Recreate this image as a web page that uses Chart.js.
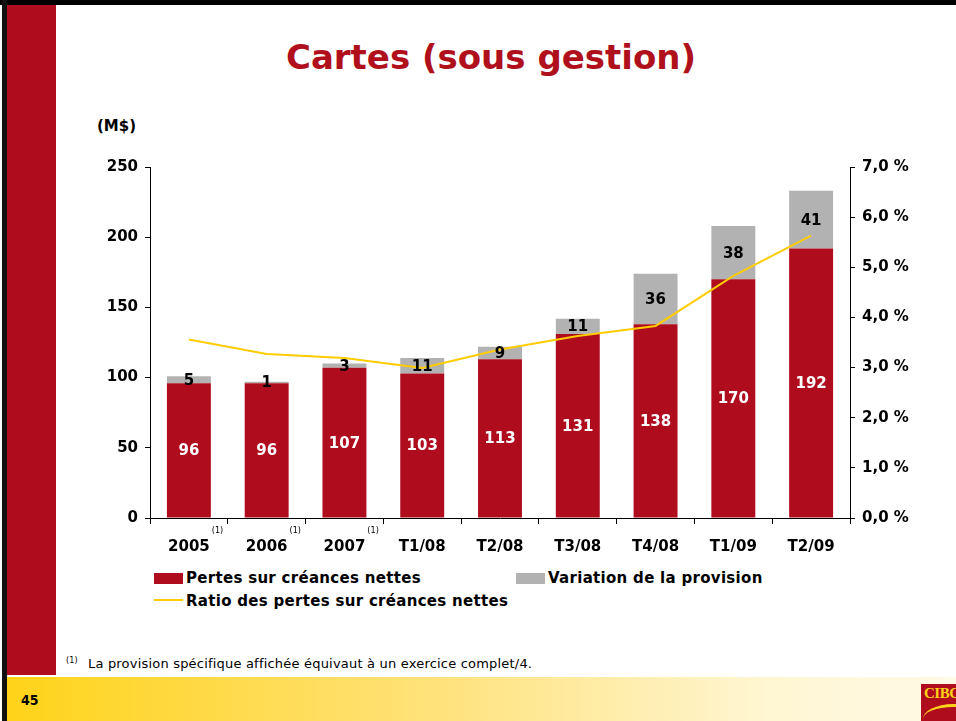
<!DOCTYPE html>
<html>
<head>
<meta charset="utf-8">
<script src="https://cdn.jsdelivr.net/npm/chart.js@4"></script>
<style>
  html, body { margin: 0; padding: 0; background: #fff; }
  body { width: 956px; height: 721px; position: relative; overflow: hidden; font-family: "DejaVu Sans", sans-serif; }
  .abs { position: absolute; }
  #topline { left: 0; top: 0; width: 956px; height: 5px; background: #000; }
  #leftline { left: 2px; top: 0; width: 5px; height: 721px; background: #111; }
  #sidebar { left: 7px; top: 5px; width: 49px; height: 670px; background: #AF0D1E; }
  #footer { left: 7px; top: 677px; width: 949px; height: 44px;
            background: linear-gradient(to right, #FFD319 0%, #FFE27A 45%, #FFF6D2 80%, #FFFAE6 100%); }
  #pageno { left: 21px; top: 692px; font: bold 14px "DejaVu Sans Condensed", "DejaVu Sans", sans-serif; }
  #logo { left: 921px; top: 684px; width: 40px; height: 37px; background: #AF0D1E; overflow: hidden; }
  #logo span { position: absolute; left: 3px; top: 1px; font: bold 15px "Liberation Serif", serif; color: #FFD319; letter-spacing: -0.5px; }
  #logo i { position: absolute; left: 2px; top: 20px; width: 50px; height: 22px; border-top: 3px solid #FFD319; border-radius: 60% 0 0 0; }
  #title { left: 60px; width: 862px; top: 37px; text-align: center; color: #B0101C; font: bold 34px "DejaVu Sans", sans-serif; }
  #unit { left: 97px; top: 117px; font: bold 15px "DejaVu Sans", sans-serif; }
  #chart { left: 0; top: 0; }
  .leg { font: bold 15px "DejaVu Sans", sans-serif; letter-spacing: 0.3px; color: #000; white-space: nowrap; }
  .sw { position: absolute; }
  #note { left: 66px; top: 656px; font: 13px "DejaVu Sans", sans-serif; letter-spacing: 0.2px; color: #000; white-space: nowrap; }
  #note sup { font-size: 8px; vertical-align: 5px; margin-right: 10px; }
</style>
</head>
<body>
<div id="topline" class="abs"></div>
<div id="sidebar" class="abs"></div>
<div id="footer" class="abs"></div>
<div id="leftline" class="abs"></div>
<div id="pageno" class="abs">45</div>
<div id="logo" class="abs"><span>CIBC</span><i></i></div>
<div id="title" class="abs">Cartes (sous gestion)</div>
<div id="unit" class="abs">(M$)</div>

<div class="abs sw" style="left:154px;top:573px;width:29px;height:11px;background:#AF0D1E"></div>
<div class="abs leg" style="left:186px;top:569px">Pertes sur créances nettes</div>
<div class="abs sw" style="left:516px;top:573px;width:29px;height:11px;background:#B2B2B2"></div>
<div class="abs leg" style="left:548px;top:569px">Variation de la provision</div>
<div class="abs sw" style="left:154px;top:599px;width:29px;height:2px;background:#FFCC00"></div>
<div class="abs leg" style="left:186px;top:592px">Ratio des pertes sur créances nettes</div>

<div id="note" class="abs"><sup>(1)</sup>La provision spécifique affichée équivaut à un exercice complet/4.</div>

<canvas id="chart" class="abs" width="956" height="721"></canvas>

<script>
// ---- DATA ----
const categories = ['2005', '2006', '2007', 'T1/08', 'T2/08', 'T3/08', 'T4/08', 'T1/09', 'T2/09'];
const footnoted = ['2005', '2006', '2007'];
const pertes = [96, 96, 107, 103, 113, 131, 138, 170, 192];
const variation = [5, 1, 3, 11, 9, 11, 36, 38, 41];
const ratio = [3.56, 3.27, 3.19, 2.99, 3.36, 3.63, 3.83, 4.83, 5.63];

// ---- COLORS ----
const RED = '#AF0D1E', GREY = '#B2B2B2', YELLOW = '#FFCC00';
const TICK_FONT = { family: 'DejaVu Sans', weight: 'bold', size: 15 };

// ---- LABEL PLUGIN ----
const barLabels = {
    id: 'barLabels',
    afterDatasetsDraw(chart) {
        const ctx = chart.ctx;
        ctx.save();
        ctx.textAlign = 'center';
        ctx.textBaseline = 'middle';
        ctx.font = 'bold 15px "DejaVu Sans"';
        [0, 1].forEach(i => {
            const meta = chart.getDatasetMeta(i);
            ctx.fillStyle = i === 0 ? '#fff' : '#000';
            meta.data.forEach((bar, j) => {
                const yMid = (bar.y + bar.base) / 2 + 1;
                ctx.fillText(String(chart.data.datasets[i].data[j]), bar.x, yMid);
            });
        });
        // footnote marks next to the year labels
        const xs = chart.scales.x;
        ctx.textAlign = 'left';
        ctx.fillStyle = '#000';
        categories.forEach((c, j) => {
            if (!footnoted.includes(c)) return;
            ctx.font = 'bold 15px "DejaVu Sans"';
            const w = ctx.measureText(c).width;
            ctx.font = '9px "DejaVu Sans Condensed"';
            ctx.fillText('(1)', xs.getPixelForValue(j) + w / 2 + 2, 531);
        });
        ctx.restore();
    }
};

// ---- CHART ----
new Chart(document.getElementById('chart'), {
    data: {
        labels: categories,
        datasets: [
            { type: 'bar', label: 'Pertes sur créances nettes', data: pertes, backgroundColor: RED,
              yAxisID: 'y', stack: 's', order: 2, barPercentage: 0.565, categoryPercentage: 1 },
            { type: 'bar', label: 'Variation de la provision', data: variation, backgroundColor: GREY,
              yAxisID: 'y', stack: 's', order: 2, barPercentage: 0.565, categoryPercentage: 1 },
            { type: 'line', label: 'Ratio des pertes sur créances nettes', data: ratio, borderColor: YELLOW,
              borderWidth: 2, pointRadius: 0, tension: 0, yAxisID: 'y2', order: 1 },
        ],
    },
    options: {
        responsive: false, animation: false,
        layout: { padding: { top: 167, bottom: 163, left: 0, right: 0 } },
        plugins: { legend: { display: false }, tooltip: { enabled: false } },
        scales: {
            x: {
                stacked: true,
                grid: { offset: true, drawOnChartArea: false, drawTicks: true, tickLength: 6, color: '#000' },
                border: { color: '#000', width: 1 },
                ticks: { color: '#000', padding: 14, font: TICK_FONT },
                afterFit: s => { s.height = 40; },
            },
            y: {
                position: 'left', stacked: true, min: 0, max: 250,
                grid: { drawOnChartArea: false, tickLength: 5, color: '#000' },
                border: { color: '#000', width: 1 },
                ticks: { stepSize: 50, color: '#000', padding: 7, font: TICK_FONT },
                afterFit: s => { s.width = 150; },
            },
            y2: {
                position: 'right', min: 0, max: 7,
                grid: { drawOnChartArea: false, tickLength: 5, color: '#000' },
                border: { color: '#000', width: 1 },
                ticks: { stepSize: 1, color: '#000', padding: 7, font: TICK_FONT,
                         callback: v => v.toFixed(1).replace('.', ',') + ' %' },
                afterFit: s => { s.width = 106; },
            },
        },
    },
    plugins: [barLabels],
});
</script>
</body>
</html>
